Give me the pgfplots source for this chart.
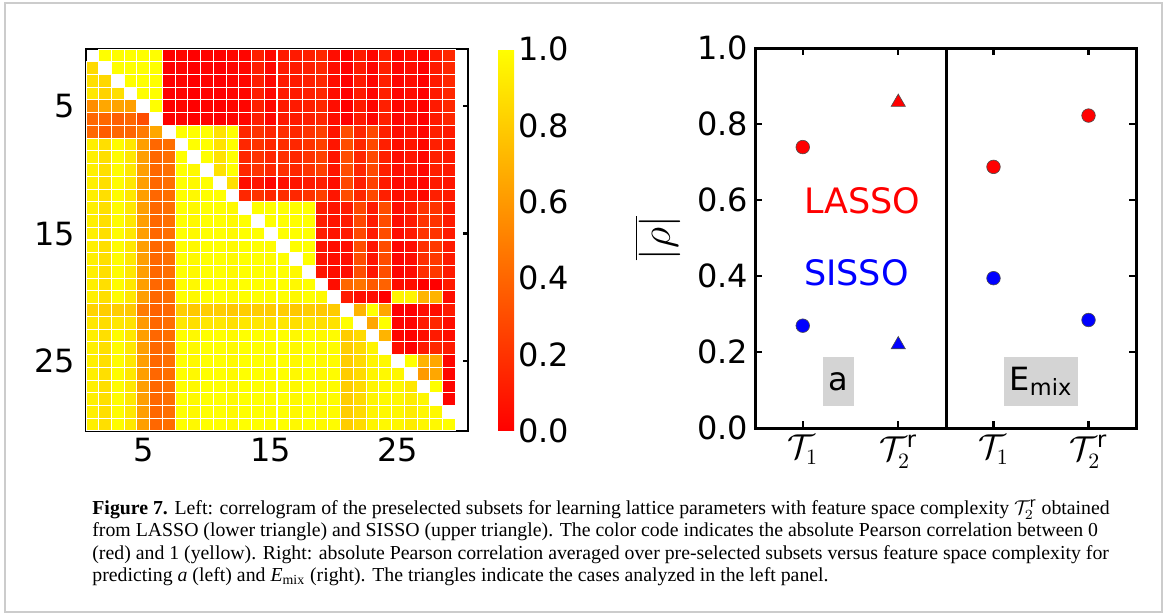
\documentclass[border=0pt]{standalone}
\usepackage{pgfplots}
\pgfplotsset{compat=1.18}
\usepackage{pgfplotstable}
\usepackage{fontspec}
\setmainfont{DejaVu Sans}
\newfontfamily\capfont{Liberation Serif}

\newcommand\tickfont{\fontsize{16}{19}\selectfont}
\pgfplotsset{colormap={autumnmpl}{rgb=(1,0,0) rgb=(1,1,0)}}

% |Pearson r| between preselected features, one line per feature (row 1 = top)
% lower triangle: LASSO, upper triangle: SISSO, -1 = empty cell
\pgfplotstableread{
c1 c2 c3 c4 c5 c6 c7 c8 c9 c10 c11 c12 c13 c14 c15 c16 c17 c18 c19 c20 c21 c22 c23 c24 c25 c26 c27 c28 c29
-1 1.00 0.99 1.00 1.00 0.99 0.00 0.02 0.00 0.01 0.00 0.02 0.02 0.12 0.03 0.10 0.10 0.12 0.15 0.05 0.00 0.10 0.02 0.12 0.02 0.05 0.00 0.10 0.15
0.85 -1 1.00 1.00 0.99 1.00 0.00 0.02 0.00 0.01 0.00 0.02 0.02 0.12 0.03 0.10 0.10 0.12 0.15 0.05 0.00 0.10 0.02 0.12 0.02 0.05 0.00 0.10 0.15
0.87 0.84 -1 1.00 1.00 1.00 0.00 0.02 0.00 0.01 0.00 0.02 0.02 0.12 0.03 0.10 0.10 0.12 0.15 0.05 0.00 0.10 0.02 0.12 0.02 0.05 0.00 0.10 0.15
0.90 0.82 0.87 -1 0.99 1.00 0.00 0.02 0.00 0.01 0.00 0.02 0.02 0.12 0.03 0.10 0.10 0.12 0.15 0.05 0.00 0.10 0.02 0.12 0.02 0.05 0.00 0.10 0.15
0.55 0.65 0.64 0.62 -1 1.00 0.00 0.02 0.00 0.01 0.00 0.02 0.02 0.12 0.03 0.10 0.10 0.12 0.15 0.05 0.00 0.10 0.02 0.12 0.02 0.05 0.00 0.10 0.15
0.40 0.40 0.37 0.40 0.30 -1 0.00 0.02 0.00 0.01 0.00 0.02 0.02 0.12 0.03 0.10 0.10 0.12 0.15 0.05 0.00 0.10 0.02 0.12 0.02 0.05 0.00 0.10 0.15
0.40 0.36 0.40 0.40 0.48 0.65 -1 1.00 1.00 1.00 0.88 1.00 0.15 0.20 0.15 0.18 0.15 0.20 0.25 0.08 0.30 0.15 0.28 0.12 0.05 0.08 0.02 0.12 0.10
0.93 0.87 0.98 0.90 0.62 0.40 0.43 -1 1.00 1.00 0.88 1.00 0.15 0.20 0.15 0.18 0.15 0.20 0.25 0.08 0.30 0.15 0.28 0.12 0.05 0.08 0.02 0.12 0.10
0.93 0.87 0.98 0.90 0.62 0.40 0.43 1.00 -1 1.00 0.88 1.00 0.15 0.20 0.15 0.18 0.15 0.20 0.25 0.08 0.30 0.15 0.28 0.12 0.05 0.08 0.02 0.12 0.10
0.93 0.87 0.98 0.90 0.62 0.40 0.43 1.00 0.97 -1 0.88 1.00 0.15 0.20 0.15 0.18 0.15 0.20 0.25 0.08 0.30 0.15 0.28 0.12 0.05 0.08 0.02 0.12 0.10
0.93 0.87 0.98 0.90 0.62 0.40 0.43 1.00 0.97 1.00 -1 0.87 0.05 0.08 0.02 0.06 0.08 0.10 0.12 0.05 0.28 0.12 0.25 0.10 0.03 0.05 0.02 0.10 0.08
0.93 0.87 0.98 0.90 0.62 0.40 0.43 1.00 0.97 1.00 1.00 -1 0.15 0.20 0.15 0.18 0.15 0.20 0.25 0.08 0.30 0.15 0.28 0.12 0.05 0.08 0.02 0.12 0.10
0.93 0.87 0.98 0.90 0.62 0.40 0.43 1.00 0.97 1.00 1.00 0.97 -1 1.00 1.00 1.00 0.99 1.00 0.12 0.08 0.10 0.28 0.10 0.30 0.05 0.10 0.20 0.20 0.10
0.93 0.87 0.98 0.90 0.62 0.40 0.43 1.00 0.97 1.00 1.00 0.97 1.00 -1 1.00 1.00 0.99 1.00 0.12 0.08 0.10 0.28 0.10 0.30 0.05 0.10 0.20 0.20 0.10
0.93 0.87 0.98 0.90 0.62 0.40 0.43 1.00 0.97 1.00 1.00 0.97 1.00 1.00 -1 1.00 0.99 1.00 0.12 0.08 0.10 0.28 0.10 0.30 0.05 0.10 0.20 0.20 0.10
0.93 0.87 0.98 0.90 0.62 0.40 0.43 1.00 0.97 1.00 1.00 0.97 1.00 1.00 0.98 -1 0.99 1.00 0.08 0.05 0.05 0.30 0.08 0.30 0.02 0.05 0.18 0.22 0.10
0.93 0.87 0.98 0.90 0.62 0.40 0.43 1.00 0.97 1.00 1.00 0.97 1.00 1.00 0.98 1.00 -1 1.00 0.08 0.05 0.05 0.30 0.08 0.30 0.02 0.05 0.18 0.22 0.10
0.93 0.87 0.98 0.90 0.62 0.40 0.43 1.00 0.97 1.00 1.00 0.97 1.00 1.00 0.98 1.00 0.97 -1 0.08 0.05 0.05 0.30 0.08 0.30 0.02 0.05 0.18 0.22 0.10
0.93 0.87 0.98 0.90 0.62 0.40 0.43 1.00 0.97 1.00 1.00 0.97 1.00 1.00 0.98 1.00 0.97 1.00 -1 0.05 0.40 0.45 0.35 0.38 0.05 0.05 0.00 0.00 0.10
0.93 0.87 0.98 0.90 0.62 0.40 0.43 1.00 0.97 1.00 1.00 0.97 1.00 1.00 0.98 1.00 0.97 1.00 0.97 -1 0.10 0.05 0.05 0.00 0.95 0.95 0.70 0.70 0.05
0.82 0.80 0.80 0.78 0.48 0.38 0.40 0.80 0.78 0.80 0.80 0.78 0.80 0.80 0.79 0.80 0.78 0.80 0.78 0.79 -1 0.70 1.00 0.65 0.00 0.00 0.05 0.05 0.10
0.90 0.86 0.90 0.88 0.60 0.40 0.43 0.90 0.87 0.90 0.90 0.87 0.90 0.90 0.88 0.90 0.87 0.90 0.87 0.88 1.00 -1 0.65 1.00 0.02 0.02 0.10 0.15 0.05
0.93 0.87 0.98 0.90 0.62 0.40 0.43 1.00 0.97 1.00 1.00 0.97 1.00 1.00 0.98 1.00 0.97 1.00 0.97 0.98 0.80 0.85 -1 0.70 0.02 0.00 0.05 0.10 0.05
0.93 0.87 0.98 0.90 0.62 0.40 0.43 1.00 0.97 1.00 1.00 0.97 1.00 1.00 0.98 1.00 0.97 1.00 0.97 0.98 0.80 0.85 0.95 -1 0.05 0.00 0.10 0.15 0.10
0.93 0.87 0.98 0.90 0.62 0.40 0.43 1.00 0.97 1.00 1.00 0.97 1.00 1.00 0.98 1.00 0.97 1.00 0.97 0.98 0.80 0.85 0.95 0.97 -1 1.00 0.70 0.65 0.02
0.93 0.87 0.98 0.90 0.62 0.40 0.43 1.00 0.97 1.00 1.00 0.97 1.00 1.00 0.98 1.00 0.97 1.00 0.97 0.98 0.80 0.85 0.95 0.97 0.96 -1 0.60 0.65 0.02
0.93 0.87 0.98 0.90 0.62 0.40 0.43 1.00 0.97 1.00 1.00 0.97 1.00 1.00 0.98 1.00 0.97 1.00 0.97 0.98 0.80 0.85 0.95 0.97 0.96 0.90 -1 1.00 0.02
0.93 0.87 0.98 0.90 0.62 0.40 0.43 1.00 0.97 1.00 1.00 0.97 1.00 1.00 0.98 1.00 0.97 1.00 0.97 0.98 0.80 0.85 0.95 0.97 0.96 0.92 0.96 -1 0.02
0.93 0.87 0.98 0.90 0.62 0.40 0.43 1.00 0.97 1.00 1.00 0.97 1.00 1.00 0.98 1.00 0.97 1.00 0.97 0.98 0.80 0.85 0.95 0.97 0.96 0.92 0.96 0.97 -1
0.93 0.87 0.98 0.90 0.62 0.40 0.43 1.00 0.97 1.00 1.00 0.97 1.00 1.00 0.98 1.00 0.97 1.00 0.97 0.98 0.80 0.85 0.95 0.97 0.96 0.92 0.96 0.97 1.00
}\corr

\begin{document}
\begin{tikzpicture}[x=1pt, y=1pt]
\useasboundingbox (0,0) rectangle (583.5,307.5);
\draw[black!20, line width=1pt] (2.5,1.5) rectangle (581,306);

% left: correlogram
\begin{axis}[
    at={(43pt,92pt)}, anchor=south west,
    scale only axis, width=191pt, height=191pt,
    xmin=0.5, xmax=30.5, ymin=0.5, ymax=30.5,
    xtick={5,15,25},
    ytick={6,16,26}, yticklabels={25,15,5},
    tick align=inside, major tick length=2.6pt,
    tick style={black, line width=1.2pt},
    axis line style={black, line width=1.2pt},
    ticklabel style={font=\tickfont},
    yticklabel style={xshift=-2pt},
    /pgf/number format/assume math mode=true,
    axis on top,
    colormap name=autumnmpl,
    point meta min=0, point meta max=1,
    restrict y to domain=0:31,
    colorbar,
    colorbar style={
        at={(parent axis.north east)}, anchor=north west, xshift=6.5pt,
        scale only axis, width=8pt, height=191pt,
        ytick={0,0.2,0.4,0.6,0.8,1},
        yticklabel style={font=\tickfont, xshift=-1.5pt,
            /pgf/number format/fixed, /pgf/number format/fixed zerofill,
            /pgf/number format/precision=1,
            /pgf/number format/assume math mode=true},
        major tick length=0pt,
        axis line style={draw=none},
    },
]
\pgfplotsinvokeforeach{1,...,29}{
  \addplot[scatter, only marks, mark=square*, mark size=3.18pt,
    mark options={line width=0.5pt},
    scatter/use mapped color={draw=white, fill=mapped color},
    point meta=explicit]
    table[x expr=#1, y expr={ifthenelse(\thisrow{c#1}<0,-99,30-\coordindex)}, meta=c#1] {\corr};
}
\end{axis}

% right: mean |rho|, lattice parameter a
\begin{axis}[
    at={(377.5pt,93.35pt)}, anchor=south west,
    scale only axis, width=95.5pt, height=190pt,
    xmin=0.5, xmax=2.5, ymin=0, ymax=1,
    xtick={1,2}, xticklabels={$\mathcal{T}_1$, $\mathcal{T}_2^{\mathrm{r}}$},
    ytick={0,0.2,0.4,0.6,0.8,1},
    xtick pos=both, ytick pos=left,
    tick align=inside, major tick length=3.5pt,
    tick style={black, line width=1.2pt},
    axis line style={black, line width=1.5pt},
    ticklabel style={font=\tickfont},
    yticklabel style={/pgf/number format/fixed, /pgf/number format/fixed zerofill,
        /pgf/number format/precision=1},
    /pgf/number format/assume math mode=true,
    ylabel={$\overline{|\rho|}$},
    ylabel style={font=\fontsize{20}{24}\selectfont, at={(axis description cs:-0.51,0.5)}, anchor=center},
    clip=false,
]
\addplot[only marks, mark=*, mark size=3.4pt, mark options={fill=red, draw=black!70, line width=0.3pt}] coordinates {(1,0.740)};
\addplot[only marks, mark=*, mark size=3.4pt, mark options={fill=blue, draw=black!70, line width=0.3pt}] coordinates {(1,0.270)};
\addplot[only marks, mark=triangle*, mark size=4.1pt, mark options={fill=red, draw=black!70, line width=0.3pt}] coordinates {(2,0.858)};
\addplot[only marks, mark=triangle*, mark size=4.1pt, mark options={fill=blue, draw=black!70, line width=0.3pt}] coordinates {(2,0.220)};
\node[anchor=west, inner sep=0, text=red, font=\fontsize{17.5}{20}\selectfont] at (axis cs:1.01,0.60) {LASSO};
\node[anchor=west, inner sep=0, text=blue, font=\fontsize{17.5}{20}\selectfont] at (axis cs:1.01,0.41) {SISSO};
\node[fill=black!17, minimum width=15.5pt, minimum height=24.5pt, inner sep=0, font=\tickfont] at (axis cs:1.374,0.123) {a};
\end{axis}

% right: mean |rho|, mixing energy
\begin{axis}[
    at={(473pt,93.35pt)}, anchor=south west,
    scale only axis, width=95pt, height=190pt,
    xmin=0.5, xmax=2.5, ymin=0, ymax=1,
    xtick={1,2}, xticklabels={$\mathcal{T}_1$, $\mathcal{T}_2^{\mathrm{r}}$},
    ytick={0,0.2,0.4,0.6,0.8,1}, yticklabels={},
    xtick pos=both, ytick pos=right,
    tick align=inside, major tick length=3.5pt,
    tick style={black, line width=1.2pt},
    axis line style={black, line width=1.5pt},
    ticklabel style={font=\tickfont},
    clip=false,
]
\addplot[only marks, mark=*, mark size=3.4pt, mark options={fill=red, draw=black!70, line width=0.3pt}] coordinates {(1,0.688) (2,0.823)};
\addplot[only marks, mark=*, mark size=3.4pt, mark options={fill=blue, draw=black!70, line width=0.3pt}] coordinates {(1,0.395) (2,0.285)};
\node[fill=black!17, minimum width=37pt, minimum height=24.5pt, inner sep=0, font=\tickfont] at (axis cs:1.5,0.123) {E\textsubscript{mix}};
\end{axis}

\node[anchor=north west, inner sep=0, align=left, font=\capfont\fontsize{9.9}{11.2}\selectfont] at (46,58) {%
\textbf{Figure 7.} Left: correlogram of the preselected subsets for learning lattice parameters with feature space complexity $\mathcal{T}_2^{\mathrm{r}}$ obtained\\
from LASSO (lower triangle) and SISSO (upper triangle). The color code indicates the absolute Pearson correlation between 0\\
(red) and 1 (yellow). Right: absolute Pearson correlation averaged over pre-selected subsets versus feature space complexity for\\
predicting \textit{a} (left) and \textit{E}\textsubscript{mix} (right). The triangles indicate the cases analyzed in the left panel.};
\end{tikzpicture}
\end{document}
